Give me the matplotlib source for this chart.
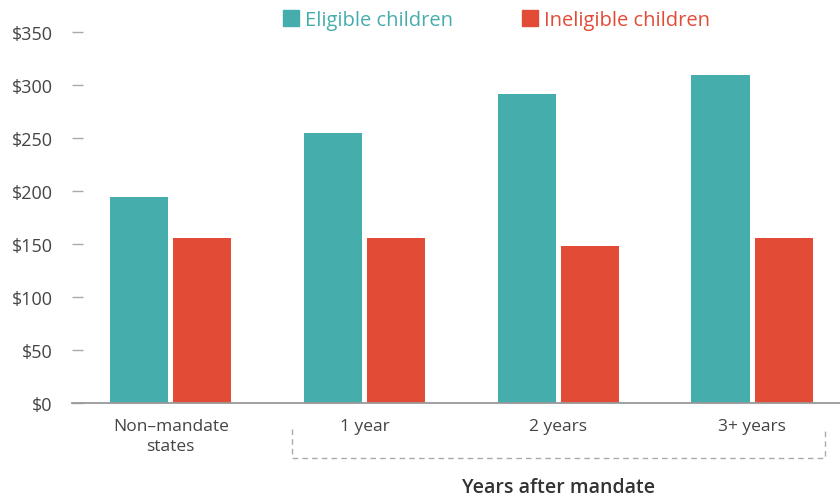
import matplotlib.pyplot as plt
from matplotlib.patches import Patch
import numpy as np

categories = ["Non\u2013mandate\nstates", "1 year", "2 years", "3+ years"]
eligible = [194, 255, 292, 310]
ineligible = [156, 156, 148, 156]
y_ticks = [0, 50, 100, 150, 200, 250, 300, 350]
y_labels = ["$0", "$50", "$100", "$150", "$200", "$250", "$300", "$350"]

teal = "#46adad"
red = "#e24c37"
text_color = "#444444"

plt.rcParams["font.family"] = ["Open Sans", "DejaVu Sans"]

fig = plt.figure(figsize=(8.4, 5.02), dpi=100)
ax = fig.add_axes([0.0857, 0.195, 0.9143, 0.739])

x = np.arange(len(categories))
bar_width = 0.30
offset = 0.163
ax.bar(x - offset, eligible, width=bar_width, color=teal, label="Eligible children")
ax.bar(x + offset, ineligible, width=bar_width, color=red, label="Ineligible children")

ax.set_xlim(-0.51, 3.454)
ax.set_ylim(0, 350)
ax.set_yticks(y_ticks)
ax.set_yticklabels(y_labels, fontsize=13, color=text_color)
ax.set_xticks(x)
ax.set_xticklabels(categories, fontsize=12.5, color=text_color, linespacing=1.3)
ax.tick_params(axis="x", length=0, pad=11)
ax.tick_params(axis="y", direction="in", length=8, color="#aaaaaa", width=1, pad=14)

for s in ["top", "right", "left"]:
    ax.spines[s].set_visible(False)
ax.spines["bottom"].set_color("#999999")
ax.spines["bottom"].set_linewidth(1.3)

# dashed bracket under the "years after mandate" groups
trans = ax.get_xaxis_transform()
bx = [0.624, 0.624, 3.376, 3.376]
by = [-0.07, -0.147, -0.147, -0.07]
ax.plot(bx, by, transform=trans, color="#aaaaaa", linestyle=(0, (4, 3)),
        linewidth=1, clip_on=False)
ax.text(2.0, -0.225, "Years after mandate", transform=trans, ha="center", va="center",
        fontsize=14, fontweight="semibold", color="#333333")

handles = [Patch(color=teal), Patch(color=red)]
leg = fig.legend(handles, ["Eligible children", "Ineligible children"],
                 loc="center", bbox_to_anchor=(0.591, 0.958), ncol=2, frameon=False,
                 fontsize=14.5, handlelength=0.8, handleheight=0.8, handletextpad=0.3,
                 columnspacing=3.4)
for t, c in zip(leg.get_texts(), [teal, red]):
    t.set_color(c)

fig.savefig("out.png", dpi=100)
